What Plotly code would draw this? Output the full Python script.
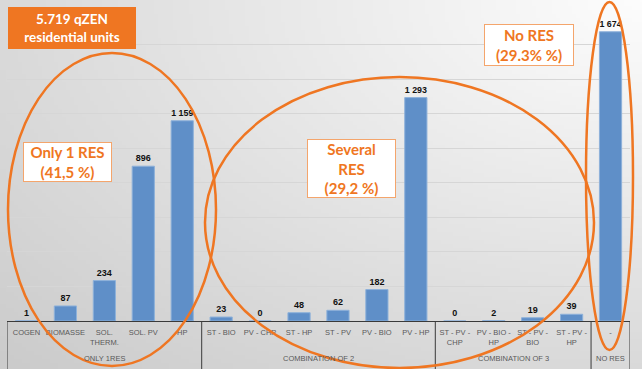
import zlib, struct, base64
import numpy as np
import plotly.graph_objects as go

# ---------------- data ----------------
group_names = ["ONLY 1RES", "COMBINATION OF 2", "COMBINATION OF 3", "NO RES"]
group_sizes = [5, 6, 4, 1]
categories = ["COGEN", "BIOMASSE", "SOL.<br>THERM.", "SOL. PV", "HP",
              "ST - BIO", "PV - CHP", "ST - HP", "ST - PV", "PV - BIO", "PV - HP",
              "ST - PV -<br>CHP", "PV - BIO -<br>HP", "ST - PV -<br>BIO", "ST - PV -<br>HP",
              "-"]
values = [1, 87, 234, 896, 1159, 23, 0, 48, 62, 182, 1293, 0, 2, 19, 39, 1674]
labels = [f"{v:,}".replace(",", " ") for v in values]

title_box = "5.719 qZEN<br>residential units"
box_one = "Only 1 RES<br>(41,5 %)"
box_several = "Several<br>RES<br>(29,2 %)"
box_none = "No RES<br>(29.3% %)"

# ---------------- geometry helpers ----------------
W, H = 642, 369
L, R, T, B = 7, 12, 10, 48
PW, PH = W - L - R, H - T - B


def px(x):
    return (x - L) / PW


def py(y):
    return (H - B - y) / PH


# ---------------- background gradient image ----------------
def gradient_uri(w=161, h=93):
    xs = np.linspace(0, 1, w)
    ys = np.linspace(0, 1, h)
    X, Y = np.meshgrid(xs, ys)
    d = np.sqrt((1 - X) ** 2 + Y ** 2) / np.sqrt(2)
    v = np.clip(253 - 50 * d, 0, 255).astype(np.uint8)
    rgb = np.stack([v, v, v], axis=-1)
    raw = b"".join(b"\x00" + rgb[i].tobytes() for i in range(h))

    def chunk(t, dd):
        return struct.pack(">I", len(dd)) + t + dd + struct.pack(">I", zlib.crc32(t + dd) & 0xffffffff)

    png = (b"\x89PNG\r\n\x1a\n"
           + chunk(b"IHDR", struct.pack(">IIBBBBB", w, h, 8, 2, 0, 0, 0))
           + chunk(b"IDAT", zlib.compress(raw))
           + chunk(b"IEND", b""))
    return "data:image/png;base64," + base64.b64encode(png).decode()


ORANGE = "#EF7622"
BLUE = "#5F8FC8"
AXIS = "#3a3a3a"

fig = go.Figure()
fig.add_trace(go.Bar(
    x=categories, y=values,
    marker=dict(color=BLUE, line=dict(color="#8DB1DA", width=1)),
    text=labels, textposition="outside", cliponaxis=False,
    textfont=dict(family="Liberation Sans", size=9, color="#111111", weight="bold"),
    showlegend=False, hoverinfo="skip",
))

fig.update_layout(
    width=W, height=H,
    margin=dict(l=L, r=R, t=T, b=B),
    paper_bgcolor="rgba(0,0,0,0)", plot_bgcolor="rgba(0,0,0,0)",
    bargap=0.43,
    font=dict(family="Liberation Sans"),
    xaxis=dict(
        type="category", tickangle=0, range=[-0.5, len(categories) - 0.5],
        showline=True, linecolor=AXIS, linewidth=1,
        ticks="", ticklabelstandoff=4,
        tickfont=dict(family="Liberation Sans", size=7.5, color="#595959"),
        automargin=False, showgrid=False,
    ),
    yaxis=dict(
        range=[0, 1800], dtick=200, showticklabels=False,
        gridcolor="#d6d6d6", gridwidth=1, zeroline=False, showline=False,
        automargin=False,
    ),
    images=[dict(source=gradient_uri(), xref="paper", yref="paper",
                 x=-L / PW, y=1 + T / PH, sizex=W / PW, sizey=H / PH,
                 sizing="stretch", xanchor="left", yanchor="top", layer="below")],
)

# group dividers and group labels on the category scale
start = -0.5
bounds = [start]
for n in group_sizes:
    bounds.append(bounds[-1] + n)
for b in bounds:
    fig.add_shape(type="line", xref="x", yref="paper", x0=b, x1=b, y0=py(H), y1=0,
                  line=dict(color=AXIS, width=1), layer="above")
for name, a, b in zip(group_names, bounds[:-1], bounds[1:]):
    fig.add_annotation(xref="x", yref="paper", x=(a + b) / 2, y=py(358), yanchor="middle",
                       text=name, showarrow=False,
                       font=dict(family="Liberation Sans", size=7.5, color="#595959"))

# ellipses
for (x0, y0, x1, y1) in [(8, 53, 216, 366), (205, 77, 594, 368), (586, 2, 633, 350)]:
    fig.add_shape(type="circle", xref="paper", yref="paper",
                  x0=px(x0), x1=px(x1), y0=py(y1), y1=py(y0),
                  line=dict(color=ORANGE, width=2.5), layer="above")

# boxes
fig.add_annotation(xref="paper", yref="paper", x=px(72), y=py(28), xanchor="center", yanchor="middle",
                   text=title_box, showarrow=False, width=126, height=40, borderpad=0,
                   bgcolor=ORANGE, bordercolor=ORANGE, borderwidth=1,
                   font=dict(family="Lato", size=13.5, color="white", weight="bold"))
for (cx, cy, w, h, txt) in [(529, 45, 88, 40, box_none),
                            (67.5, 162, 87, 38, box_one),
                            (351.5, 168.5, 87, 57, box_several)]:
    fig.add_annotation(xref="paper", yref="paper", x=px(cx), y=py(cy), xanchor="center", yanchor="middle",
                       text=txt, showarrow=False, width=w, height=h, borderpad=0,
                       bgcolor="white", bordercolor="#F4A56C", borderwidth=1,
                       font=dict(family="Lato", size=15, color=ORANGE, weight="bold"))

fig.write_html("out.html", config={"displayModeBar": False},
               post_script="document.body.style.margin='0';document.body.style.padding='0';")
